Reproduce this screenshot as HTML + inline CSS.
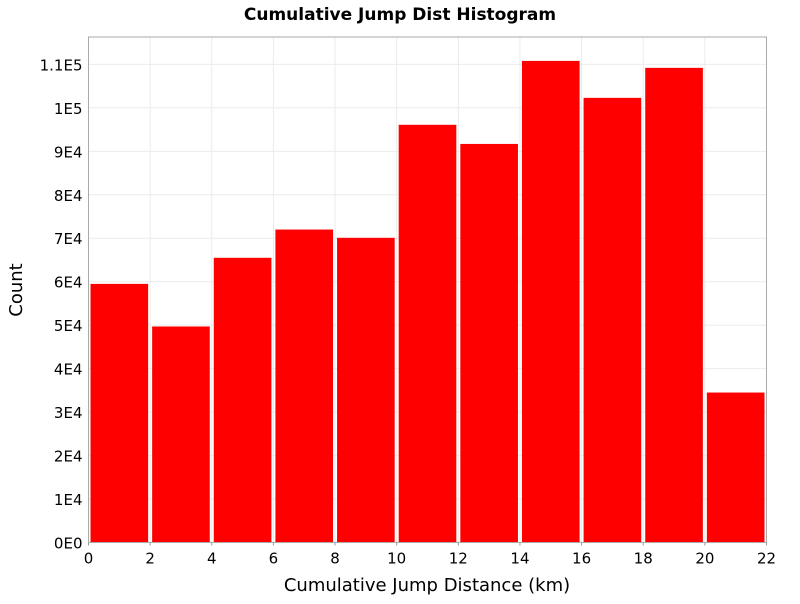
<!DOCTYPE html>
<html><head><meta charset="utf-8"><style>
body{margin:0;background:#fff;width:800px;height:600px;overflow:hidden;font-family:"DejaVu Sans","Liberation Sans",sans-serif}
</style></head><body>
<svg id="chart" width="800" height="600" xmlns="http://www.w3.org/2000/svg">
<text x="400" y="20" text-anchor="middle" font-size="17" font-weight="bold" font-family="DejaVu Sans, sans-serif">Cumulative Jump Dist Histogram</text>
<g id="grid"></g><g id="bars"></g><g id="axes"></g>
<text x="427" y="591" text-anchor="middle" font-size="18" font-family="DejaVu Sans, sans-serif">Cumulative Jump Distance (km)</text>
<text transform="translate(22,290) rotate(-90)" text-anchor="middle" font-size="18" font-family="DejaVu Sans, sans-serif">Count</text>
</svg>
<script>
const binStarts=[0,2,4,6,8,10,12,14,16,18,20];
const binWidth=2;
const counts=[59500,49700,65500,72000,70100,96100,91700,110800,102300,109200,34500];
const xTicks=[0,2,4,6,8,10,12,14,16,18,20,22];
const yTicks=[0,10000,20000,30000,40000,50000,60000,70000,80000,90000,100000,110000];
const yTickLabels=["0E0","1E4","2E4","3E4","4E4","5E4","6E4","7E4","8E4","9E4","1E5","1.1E5"];
const L=88.5,R=766.5,T=37,B=542.5,xMax=22,yMax=116300;
const xs=v=>L+v/xMax*(R-L), ys=v=>B-v/yMax*(B-T);
const NS="http://www.w3.org/2000/svg";
function mk(tag,parent,attrs){const e=document.createElementNS(NS,tag);for(const k in attrs)e.setAttribute(k,attrs[k]);parent.appendChild(e);return e;}
const grid=document.getElementById('grid'),bars=document.getElementById('bars'),axes=document.getElementById('axes');
xTicks.forEach(t=>{
 const g=mk('line',grid,{x1:xs(t),x2:xs(t),y1:T,y2:B,stroke:'#ebebeb','stroke-width':1});
 
 
 const lb=mk('text',axes,{x:xs(t),y:B+21,'text-anchor':'middle','font-size':15});
 lb.textContent=t;
 
 
 mk('line',axes,{x1:xs(t),x2:xs(t),y1:B,y2:B+3,stroke:'#999'});
});
yTicks.forEach((t,i)=>{
 const g=mk('line',grid,{x1:L,x2:R,y1:ys(t),y2:ys(t),stroke:'#ebebeb','stroke-width':1});
 
 
 const lb=mk('text',axes,{x:L-6,y:ys(t)+6,'text-anchor':'end','font-size':15});
 lb.textContent=yTickLabels[i];
 
 
});
binStarts.forEach((s,i)=>{
 const x0=xs(s)+2,x1=xs(s+binWidth)-2;
 const r=mk('rect',bars,{x:x0,y:ys(counts[i]),width:x1-x0,height:B-ys(counts[i]),fill:'#ff0000'});
 
 
});
const f=mk('rect',axes,{x:L,y:T,width:R-L,height:B-T,fill:'none',stroke:'#aaa','stroke-width':1});


</script>
</body></html>
